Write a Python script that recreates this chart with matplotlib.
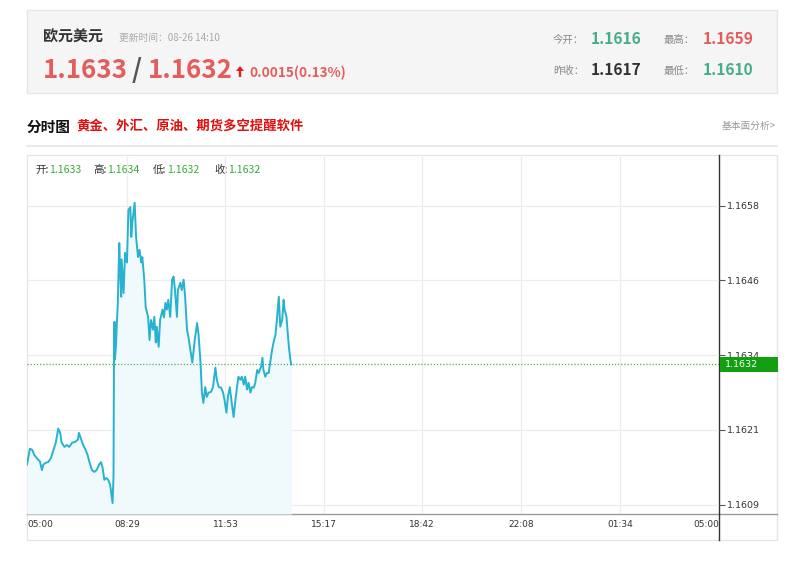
import matplotlib
matplotlib.use("Agg")
import matplotlib.pyplot as plt
from matplotlib.patches import Rectangle, FancyArrow
from matplotlib.transforms import blended_transform_factory
from matplotlib.lines import Line2D

plt.rcParams['font.family'] = ['Noto Sans CJK SC', 'DejaVu Sans']

# ---------------- data ----------------
title_name = "欧元美元"
update_time = "更新时间：08-26 14:10"
bid_price = "1.1633"
ask_price = "1.1632"
change_text = "0.0015(0.13%)"
stat_labels = ["今开：", "最高：", "昨收：", "最低："]
stat_values = ["1.1616", "1.1659", "1.1617", "1.1610"]
section_title = "分时图"
promo_text = "黄金、外汇、原油、期货多空提醒软件"
link_text = "基本面分析>"
ohlc_labels = ["开:", "高:", "低:", "收:"]
ohlc_values = ["1.1633", "1.1634", "1.1632", "1.1632"]

# minutes after 05:00
minutes = [0, 3, 6, 11, 15, 22, 27, 31, 34, 39, 44, 50, 55, 60, 65, 69, 72, 78, 83, 88,
           94, 100, 106, 108, 113, 117, 122, 126, 130, 135, 140, 145, 150, 154, 157, 161,
           165, 169, 173, 178, 180, 181, 182, 183, 185, 187, 189, 192, 194, 196, 197, 201,
           204, 208, 211, 215, 217, 219, 224, 227, 231, 234, 238, 240, 244, 247, 252, 255,
           258, 262, 265, 268, 270, 274, 277, 282, 285, 288, 291, 294, 298, 302, 305, 308,
           312, 314, 319, 322, 326, 329, 333, 336, 340, 344, 349, 354, 357, 361, 364, 367,
           371, 374, 378, 383, 387, 392, 395, 399, 404, 408, 411, 415, 418, 422, 427, 430,
           433, 437, 440, 444, 447, 451, 454, 458, 461, 465, 468, 472, 475, 479, 482, 487,
           490, 492, 496, 499, 503, 506, 510, 513, 517, 520, 524, 527, 531, 534, 536, 540,
           542, 545, 548, 550]
prices = [1.16156, 1.16169, 1.16182, 1.16180, 1.16172, 1.16165, 1.16161, 1.16147, 1.16156,
          1.16159, 1.16160, 1.16167, 1.16180, 1.16192, 1.16215, 1.16208, 1.16192, 1.16185,
          1.16188, 1.16185, 1.16192, 1.16193, 1.16197, 1.16208, 1.16197, 1.16188, 1.16180,
          1.16172, 1.16160, 1.16147, 1.16144, 1.16147, 1.16156, 1.16160, 1.16152, 1.16131,
          1.16134, 1.16131, 1.16123, 1.16093, 1.16136, 1.16333, 1.16390, 1.16328, 1.16349,
          1.16388, 1.16421, 1.16519, 1.16470, 1.16431, 1.16492, 1.16437, 1.16503, 1.16487,
          1.16573, 1.16578, 1.16529, 1.16552, 1.16585, 1.16529, 1.16496, 1.16508, 1.16487,
          1.16496, 1.16459, 1.16414, 1.16398, 1.16360, 1.16393, 1.16377, 1.16398, 1.16356,
          1.16382, 1.16349, 1.16393, 1.16410, 1.16397, 1.16421, 1.16410, 1.16426, 1.16398,
          1.16459, 1.16464, 1.16442, 1.16398, 1.16442, 1.16454, 1.16442, 1.16459, 1.16431,
          1.16377, 1.16365, 1.16344, 1.16323, 1.16360, 1.16388, 1.16369, 1.16324, 1.16274,
          1.16257, 1.16283, 1.16267, 1.16274, 1.16275, 1.16283, 1.16315, 1.16295, 1.16283,
          1.16282, 1.16274, 1.16262, 1.16241, 1.16267, 1.16283, 1.16251, 1.16234, 1.16257,
          1.16283, 1.16300, 1.16295, 1.16300, 1.16287, 1.16300, 1.16279, 1.16290, 1.16274,
          1.16283, 1.16282, 1.16290, 1.16311, 1.16306, 1.16316, 1.16331, 1.16311, 1.16300,
          1.16306, 1.16306, 1.16323, 1.16344, 1.16356, 1.16369, 1.16393, 1.16431, 1.16382,
          1.16393, 1.16426, 1.16410, 1.16398, 1.16377, 1.16349, 1.16328, 1.16320]
current_price = 1.1632
x_tick_minutes = [0, 209, 413, 617, 822, 1028, 1234, 1440]
x_tick_labels = ["05:00", "08:29", "11:53", "15:17", "18:42", "22:08", "01:34", "05:00"]
y_ticks = [1.16090, 1.16213, 1.16335, 1.16458, 1.16580]
y_tick_labels = ["1.1609", "1.1621", "1.1634", "1.1646", "1.1658"]
y_min, y_max = 1.16075, 1.16660
x_min, x_max = 0, 1440

# ---------------- styles ----------------
RED = "#e45c5c"
GREEN_T = "#45ad88"
DARK = "#333333"
GREY = "#999999"
LINE = "#27b2cf"
FILL = "#f0f9fc"
OHLC_G = "#3aab3a"
BOX_G = "#12a012"

W, H = 800, 562
fig = plt.figure(figsize=(W / 100, H / 100), dpi=100)
fig.patch.set_facecolor("white")

bg = fig.add_axes([0, 0, 1, 1])
bg.set_xlim(0, W)
bg.set_ylim(H, 0)
bg.axis("off")

# header panel
bg.add_patch(Rectangle((27, 10), 750, 83, fc="#f5f5f5", ec="#e6e6e6", lw=1))
bg.text(43, 37, title_name, fontsize=10.8, fontweight="bold", color=DARK, va="center")
bg.text(119, 38, update_time, fontsize=7, color="#aaaaaa", va="center")
bg.text(43, 78, bid_price, fontsize=18.6, fontweight="bold", color=RED, va="baseline")
bg.text(132, 78, "/", fontsize=18.6, fontweight="bold", color="#555555", va="baseline")
bg.text(148, 78, ask_price, fontsize=18.6, fontweight="bold", color=RED, va="baseline")
bg.add_patch(FancyArrow(240, 77, 0, -11, width=2.4, head_width=8, head_length=5,
                        length_includes_head=True, fc="#e01e1e", ec="none"))
bg.text(249, 77, change_text, fontsize=9.8, fontweight="bold", color=RED, va="baseline")

stat_pos = [(553, 591, 44), (664, 703, 44), (553, 591, 75), (664, 703, 75)]
stat_colors = [GREEN_T, RED, DARK, GREEN_T]
for (lx, vx, by), lab, val, c in zip(stat_pos, stat_labels, stat_values, stat_colors):
    bg.text(lx, by - 1, lab, fontsize=7.5, color="#888888", va="baseline")
    bg.text(vx, by, val, fontsize=11.2, fontweight="bold", color=c, va="baseline")

# section header
bg.text(27, 127, section_title, fontsize=10.5, fontweight="bold", color="#111111", va="center")
bg.text(76, 127, promo_text, fontsize=9.6, fontweight="bold", color="#e01010", va="center")
bg.text(776, 126, link_text, fontsize=7, color=GREY, va="center", ha="right")
bg.add_line(Line2D([27, 777], [146, 146], color="#e4e4e4", lw=1.2))

# chart frame
bg.add_patch(Rectangle((27, 155), 750, 385, fc="white", ec="#e6e6e6", lw=1))
bg.add_line(Line2D([27, 777], [514, 514], color="#9a9a9a", lw=1))
bg.add_line(Line2D([719, 719], [155, 540], color="#333333", lw=1))

# OHLC line
ohlc_x = [(35, 49), (93, 107), (153, 167), (214, 228)]
for (lx, vx), lab, val in zip(ohlc_x, ohlc_labels, ohlc_values):
    bg.text(lx, 170, lab, fontsize=7.6, color=DARK, va="center")
    bg.text(vx, 170, val, fontsize=7.6, color=OHLC_G, va="center")

# main chart axes
left, right, top, bottom = 27, 719, 157, 514
ax = fig.add_axes([left / W, (H - bottom) / H, (right - left) / W, (bottom - top) / H])
ax.set_facecolor("none")
ax.set_xlim(x_min, x_max)
ax.set_ylim(y_min, y_max)
for s in ax.spines.values():
    s.set_visible(False)

for xt in x_tick_minutes[1:-1]:
    ax.axvline(xt, color="#ededed", lw=0.9, zorder=0)
for yt in y_ticks:
    ax.axhline(yt, color="#ededed", lw=0.9, zorder=0)

ax.fill_between(minutes, prices, y_min, color=FILL, lw=0, zorder=1)
ax.plot(minutes, prices, color=LINE, lw=1.4, zorder=3, solid_joinstyle="round")
ax.axhline(current_price, color="#55b055", lw=0.9, ls=(0, (1, 1.5)), zorder=2)

ax.set_xticks(x_tick_minutes)
ax.set_xticklabels(x_tick_labels, fontsize=6.5, color=DARK, family="DejaVu Sans")
ax.tick_params(axis="x", length=0, pad=4)
xl = ax.get_xticklabels()
xl[0].set_ha("left")
xl[-1].set_ha("right")

ax.yaxis.tick_right()
ax.set_yticks(y_ticks)
ax.set_yticklabels(y_tick_labels, fontsize=6.8, color=DARK, family="DejaVu Sans")
ax.tick_params(axis="y", length=4, width=0.8, color="#555555", pad=1.5, direction="out")

# current price tag
tr = blended_transform_factory(ax.transAxes, ax.transData)
px_per_unit = (bottom - top) / (y_max - y_min)
box_h = 15 / px_per_unit
box_w = (777 - right) / (right - left)
ax.add_patch(Rectangle((1.002, current_price - box_h / 2), box_w, box_h, transform=tr,
                       fc=BOX_G, ec="none", clip_on=False, zorder=5))
ax.text(1.008, current_price, ask_price, transform=tr, fontsize=6.8, color="white",
        va="center", ha="left", family="DejaVu Sans", zorder=6, clip_on=False)

fig.savefig("out.png", dpi=100)
